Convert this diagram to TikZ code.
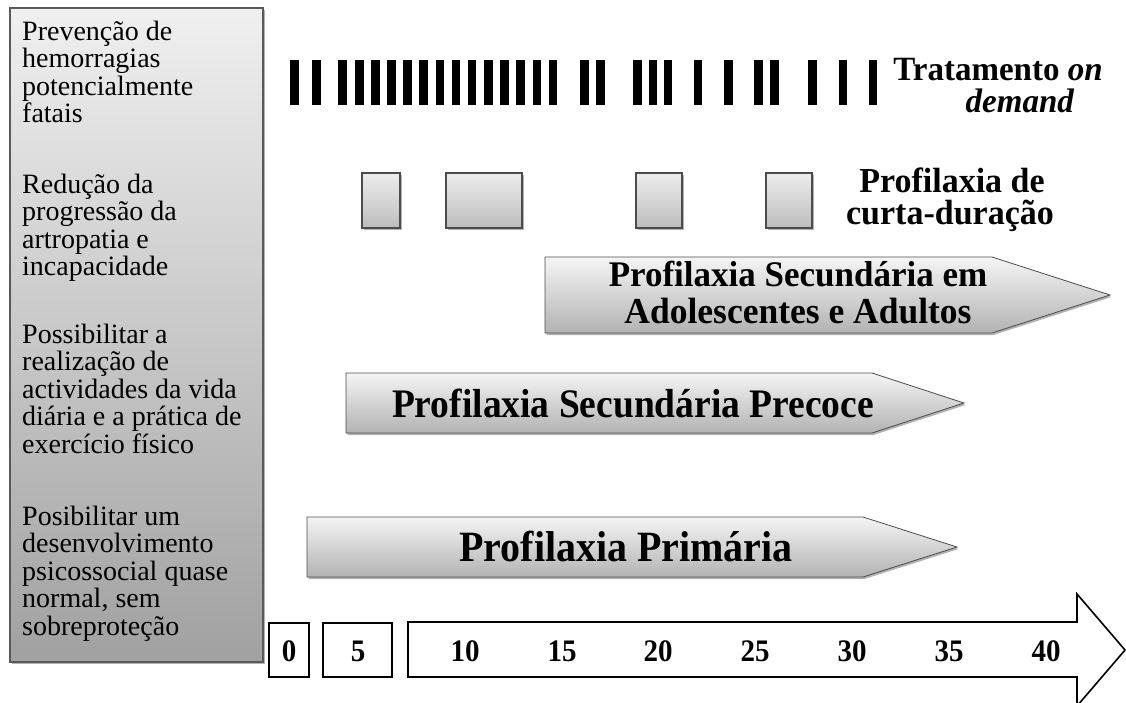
\documentclass[tikz,border=0pt]{standalone}
\usepackage{fontspec}
\setmainfont{Liberation Serif}
\usetikzlibrary{shadows}
\newcommand{\tallT}[1]{\scalebox{1}[1.08]{#1}}
\newcommand{\tallS}[1]{\scalebox{1}[1.03]{#1}}
\begin{document}
\begin{tikzpicture}[x=1pt,y=-1pt,
  shad/.style={drop shadow={shadow xshift=1.5pt,shadow yshift=-2pt,opacity=0.3,fill=black}},
  panel/.style={draw=black!65,line width=1.2pt,top color=black!6,bottom color=black!37,shad},
  gbox/.style={draw=black!70,line width=1.2pt,top color=black!7,bottom color=black!26,shad},
  garrow/.style={draw=black!70,line width=0.8pt,top color=black!4,bottom color=black!30,shad},
  bar/.style={fill=black},
  axbox/.style={draw=black,line width=1.6pt,fill=white},
  ltext/.style={anchor=base west,inner sep=0pt,font=\fontsize{28}{28}\selectfont},
  num/.style={anchor=base,inner sep=0pt,font=\fontsize{29}{29}\selectfont\bfseries},
  lbl/.style={anchor=base,inner sep=0pt,font=\fontsize{33}{33}\selectfont\bfseries}
]
\useasboundingbox (0,0) rectangle (1126,702);

% left panel
\path[panel] (10,8) rectangle (263,662);
\foreach \t/\yy [count=\i] in {
  {Prevenção de}/40, {hemorragias}/67.6, {potencialmente}/95.2, {fatais}/122.8,
  {Redução da}/193, {progressão da}/220.6, {artropatia e}/248.2, {incapacidade}/275.8,
  {Possibilitar a}/343, {realização de}/370.6, {actividades da vida}/398.2, {diária e a prática de}/425.8, {exercício físico}/453.4,
  {Posibilitar um}/525, {desenvolvimento}/552.6, {psicossocial quase}/580.2, {normal, sem}/607.8, {sobreproteção}/635.4}
  \node[ltext] (L\i) at (22,\yy) {\t};

% on-demand bars
\foreach \xx in {290,312,338,355,371,387,403,419,435.5,451.5,467.5,484,500,516,532.5,548.5,580,596,633,648.5,663.5,693.5,724,754,770,808,838.5,868.5}
  \fill[bar] (\xx,60) rectangle ++(8.5,45);
\node[lbl] (t1) at (998,80) {\tallS{Tratamento \textit{on}}};
\node[lbl] (t2) at (1020,112) {\tallS{\textit{demand}}};

% short-term prophylaxis boxes
\path[gbox] (362,173) rectangle (400,228);
\path[gbox] (446,173) rectangle (522,228);
\path[gbox] (636,173) rectangle (682,228);
\path[gbox] (766,173) rectangle (812,228);
\node[lbl,font=\fontsize{34}{34}\selectfont\bfseries] (c1) at (952,192) {\tallS{Profilaxia de}};
\node[lbl,font=\fontsize{34}{34}\selectfont\bfseries] (c2) at (950,224) {\tallS{curta-duração}};

% arrows
\path[garrow] (545,257) -- (992,257) -- (1110,295) -- (992,333) -- (545,333) -- cycle;
\node[lbl,font=\fontsize{35}{35}\selectfont\bfseries] (a1) at (798,286) {\tallS{Profilaxia Secundária em}};
\node[lbl,font=\fontsize{35.5}{35.5}\selectfont\bfseries] (a2) at (798,323) {\tallS{Adolescentes e Adultos}};

\path[garrow] (346,373) -- (872,373) -- (964,403) -- (872,433) -- (346,433) -- cycle;
\node[lbl,font=\fontsize{37.5}{37.5}\selectfont\bfseries] (b1) at (633,417) {\tallT{Profilaxia Secundária Precoce}};

\path[garrow] (307,517) -- (863,517) -- (957,547) -- (863,577) -- (307,577) -- cycle;
\node[lbl,font=\fontsize{40}{40}\selectfont\bfseries] (p1) at (626,561) {\tallT{Profilaxia Primária}};

% age axis
\path[axbox] (269,623) rectangle (309,677);
\path[axbox] (323,623) rectangle (392,677);
\path[axbox] (408,622) -- (1077,622) -- (1077,594) -- (1125,650) -- (1077,706) -- (1077,677) -- (408,677) -- cycle;
\foreach \n/\xx in {0/289,5/358,10/465,15/562,20/658,25/755,30/852,35/949,40/1046}
  \node[num] (n\n) at (\xx,661) {\tallT{\n}};
\end{tikzpicture}
\end{document}
